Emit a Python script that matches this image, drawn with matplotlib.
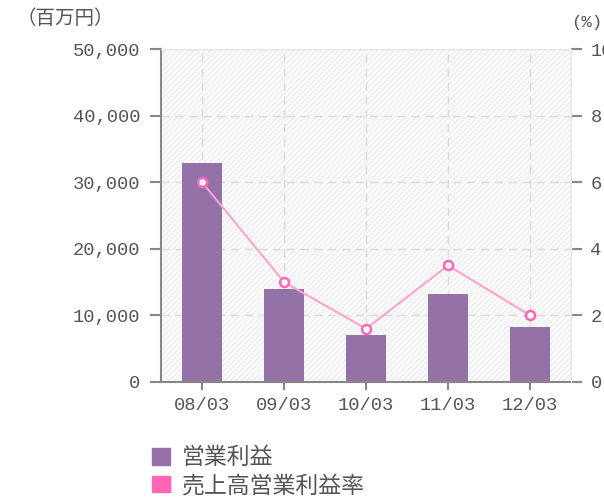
import matplotlib
matplotlib.use('Agg')
import matplotlib.pyplot as plt
from matplotlib.patches import Patch, Rectangle

plt.rcParams['font.family'] = ['Noto Sans CJK JP', 'DejaVu Sans']

# data
years = ['08/03', '09/03', '10/03', '11/03', '12/03']
profit = [32900, 13900, 7050, 13200, 8250]          # 営業利益 (百万円)
margin = [6.0, 3.0, 1.6, 3.5, 2.0]                  # 売上高営業利益率 (%)
yticks_l = [0, 10000, 20000, 30000, 40000, 50000]
yticks_r = [0, 2, 4, 6, 8, 10]

bar_col = '#9471a6'
line_col = '#ffa3d1'
mark_col = '#ff66b8'
txt_col = '#555555'
num_font = ['Liberation Mono', 'DejaVu Sans Mono']

fig = plt.figure(figsize=(6.04, 4.97), dpi=100)
ax = fig.add_axes([161/604, 1-382/497, 410/604, 333/497])

# hatched background
ax.patch.set_visible(False)
plt.rcParams['hatch.linewidth'] = 0.8
ax.add_patch(Rectangle((0, 0), 1, 1, transform=ax.transAxes, facecolor='#f9f9f9',
                       edgecolor='#eeeeee', hatch='//////', lw=0, zorder=0))

x = range(len(years))
ax.bar(x, profit, width=0.48, color=bar_col, zorder=2)
ax.set_xlim(-0.5, 4.5)
ax.set_ylim(0, 50000)
ax.set_yticks(yticks_l)
ax.set_yticklabels([f'{v:,}' for v in yticks_l], family=num_font, fontsize=13.5, color=txt_col)
ax.set_xticks(list(x))
ax.set_xticklabels(years, family=num_font, fontsize=13.5, color=txt_col)
ax.grid(True, color='#dddddd', ls=(0, (6, 4)), lw=1, zorder=1)
ax.set_axisbelow(True)

for s in ['left', 'bottom']:
    ax.spines[s].set_color('#888888')
    ax.spines[s].set_linewidth(1.5)
ax.spines['top'].set_color('#e6e6e6')
ax.spines['right'].set_color('#e6e6e6')
ax.tick_params(axis='y', length=8, width=1.5, color='#888888', pad=7)
ax.tick_params(axis='x', length=6, width=1.5, color='#888888', pad=5)

ax2 = ax.twinx()
ax2.plot(x, margin, color=line_col, lw=1.5, marker='o', ms=6.5,
         mfc='white', mec=mark_col, mew=1.8, zorder=3)
ax2.set_ylim(0, 10)
ax2.set_yticks(yticks_r)
ax2.set_yticklabels([str(v) for v in yticks_r], family=num_font, fontsize=13.5, color=txt_col)
ax2.tick_params(axis='y', length=8, width=1.5, color='#888888', pad=6)
for s in ['left', 'bottom', 'top']:
    ax2.spines[s].set_visible(False)
ax2.spines['right'].set_color('#e6e6e6')

fig.text(17/604, 1-18/497, '（百万円）', fontsize=14, color=txt_col, va='center', ha='left')
fig.text(571/604, 1-22/497, '(%)', family=num_font, fontsize=12.5, color=txt_col,
         va='center', ha='left')

handles = [Patch(color=bar_col, label='営業利益'),
           Patch(color='#ff66b3', label='売上高営業利益率')]
fig.legend(handles=handles, loc='upper left', bbox_to_anchor=(141/604, 1-435/497),
           frameon=False, fontsize=16.5, handlelength=0.75, handleheight=0.75,
           handletextpad=0.55, labelspacing=0.2, labelcolor=txt_col, borderpad=0)

fig.savefig('out.png', dpi=100)
